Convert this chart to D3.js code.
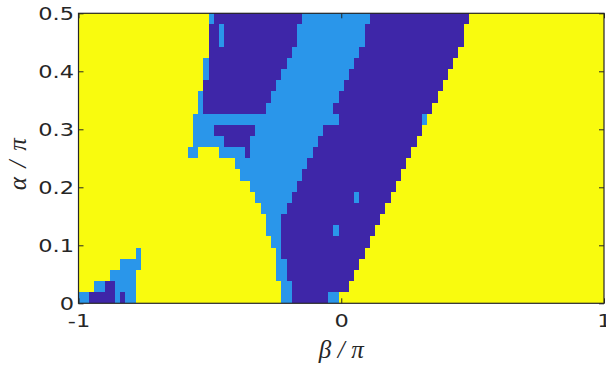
<!DOCTYPE html>
<html>
<head>
<meta charset="utf-8">
<script src="https://cdn.jsdelivr.net/npm/d3@7"></script>
<style>
  body { margin: 0; background: #fff; }
  .axis text { font-family: "DejaVu Sans", sans-serif; font-size: 18px; fill: #262626; transform-box: fill-box; }
  .axis--x text { transform-origin: center; transform: scaleX(1.25); }
  .axis--y text { transform-origin: right center; transform: scaleX(1.25); }
  .axis line { stroke: #262626; }
  .axis .domain { display: none; }
  .label { font-family: "Liberation Serif", serif; font-style: italic; font-size: 25px; fill: #262626; }
</style>
</head>
<body>
<script>
  // grid: 101 columns in beta/pi, 26 rows in alpha/pi
  var beta = d3.range(101).map(function(i) { return +(-1 + i * 0.02).toFixed(2); });
  var alpha = d3.range(26).map(function(i) { return +(i * 0.02).toFixed(2); });
  var betaTicks = [-1, 0, 1];
  var alphaTicks = [0, 0.1, 0.2, 0.3, 0.4, 0.5];
  var phases = ["Y", "B", "D"];
  var phaseColors = ["#f9fb0e", "#2a96ea", "#3e26a8"];

  // one row per alpha (bottom first), runs along beta: phase letter + number of cells
  var rows = [
    "B2 D5 B1 D1 B2 Y28 B2 D7 B2 Y51",
    "Y3 B2 D2 B4 Y28 B2 D11 Y49",
    "Y6 B5 Y27 B2 D13 Y48",
    "Y8 B4 Y26 B2 D14 Y47",
    "Y11 B1 Y26 B1 D16 Y46",
    "Y37 B2 D17 Y45",
    "Y36 B3 D10 B1 D7 Y44",
    "Y36 B3 D19 Y43",
    "Y35 B5 D19 Y42",
    "Y34 B7 D12 B1 D6 Y41",
    "Y33 B9 D19 Y40",
    "Y31 B12 D19 Y39",
    "Y30 B14 D19 Y38",
    "Y21 B2 Y4 B5 D1 B12 D19 Y37",
    "Y22 B6 D5 B13 D19 Y36",
    "Y22 B4 D8 B13 D19 Y35",
    "Y22 B28 D16 B1 Y34",
    "Y23 B1 D12 B13 D19 Y33",
    "Y23 B1 D13 B13 D19 Y32",
    "Y24 D14 B13 D19 Y31",
    "Y24 B1 D14 B13 D19 Y30",
    "Y24 B1 D15 B13 D19 Y29",
    "Y25 D16 B13 D19 Y28",
    "Y25 D2 B1 D14 B13 D19 Y27",
    "Y25 D2 B1 D14 B13 D19 Y27",
    "Y25 B1 D17 B13 D19 Y26"
  ];

  var cells = [];
  rows.forEach(function(row, r) {
    var k = 0;
    row.split(" ").forEach(function(run) {
      var n = +run.slice(1);
      for (var i = 0; i < n; i++, k++) {
        cells.push({b: beta[k], a: alpha[r], p: run[0]});
      }
    });
  });

  var margin = {top: 13.3, right: 2, bottom: 62.7, left: 78.5},
      width = 606 - margin.left - margin.right,
      height = 366 - margin.top - margin.bottom;

  var xBand = d3.scaleBand().domain(beta).range([0, width]),
      yBand = d3.scaleBand().domain(alpha).range([height, 0]),
      x = d3.scaleLinear().domain([-1, 1]).range([0, width]),
      y = d3.scaleLinear().domain([0, 0.5]).range([height, 0]),
      color = d3.scaleOrdinal().domain(phases).range(phaseColors);

  var svg = d3.select("body").append("svg")
      .attr("width", 606)
      .attr("height", 366);

  var g = svg.append("g")
      .attr("transform", "translate(" + margin.left + "," + margin.top + ")");

  // cells
  g.append("g")
      .attr("shape-rendering", "crispEdges")
    .selectAll("rect")
    .data(cells)
    .enter().append("rect")
      .attr("x", function(d) { return xBand(d.b); })
      .attr("y", function(d) { return yBand(d.a); })
      .attr("width", xBand.bandwidth())
      .attr("height", yBand.bandwidth())
      .attr("fill", function(d) { return color(d.p); });

  // axes, ticks pointing inward on all four sides
  g.append("g")
      .attr("class", "axis axis--x")
      .attr("transform", "translate(0," + height + ")")
      .call(d3.axisBottom(x).tickValues(betaTicks).tickSizeInner(-5).tickSizeOuter(0)
        .tickPadding(11).tickFormat(function(d) { return String(d); }));

  g.append("g")
      .attr("class", "axis")
      .call(d3.axisTop(x).tickValues(betaTicks).tickSizeInner(-5).tickSizeOuter(0).tickFormat(""));

  g.append("g")
      .attr("class", "axis axis--y")
      .call(d3.axisLeft(y).tickValues(alphaTicks).tickSizeInner(-5).tickSizeOuter(0)
        .tickPadding(4.5).tickFormat(function(d) { return String(d); }));

  g.append("g")
      .attr("class", "axis")
      .attr("transform", "translate(" + width + ",0)")
      .call(d3.axisRight(y).tickValues(alphaTicks).tickSizeInner(-5).tickSizeOuter(0).tickFormat(""));

  // box
  g.append("rect")
      .attr("width", width)
      .attr("height", height)
      .attr("fill", "none")
      .attr("stroke", "#262626")
      .attr("stroke-width", 1.2);

  // labels
  svg.append("text")
      .attr("class", "label")
      .attr("x", margin.left + x(0))
      .attr("y", 358)
      .attr("text-anchor", "middle")
      .attr("textLength", 45)
      .text("β/π");

  svg.append("text")
      .attr("class", "label")
      .attr("transform", "translate(26," + (margin.top + height / 2 + 6) + ") rotate(-90)")
      .attr("text-anchor", "middle")
      .attr("textLength", 52)
      .text("α/π");
</script>
</body>
</html>
